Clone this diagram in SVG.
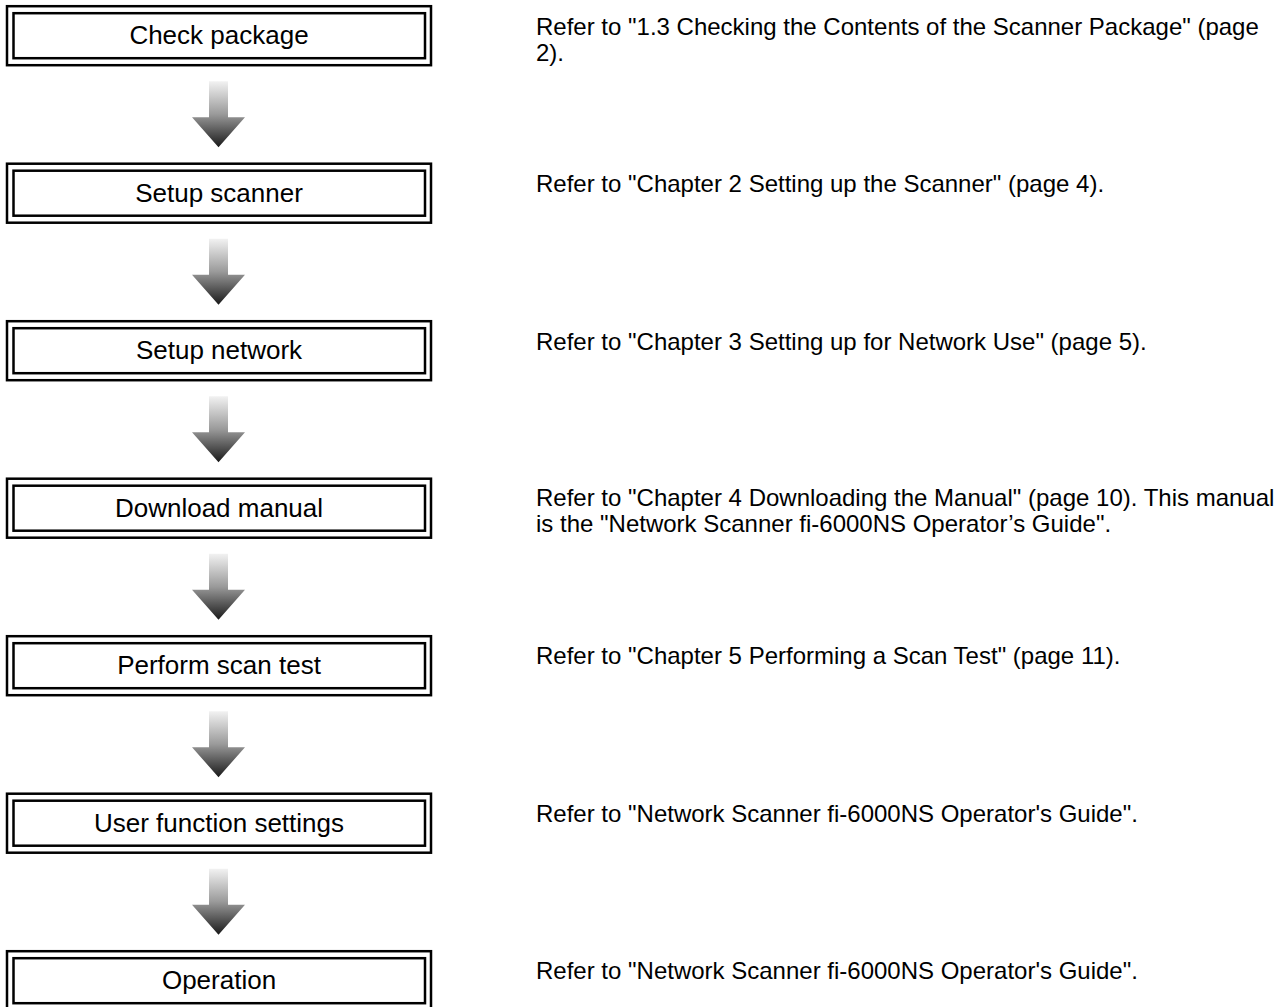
<svg xmlns="http://www.w3.org/2000/svg" width="1284" height="1007" viewBox="0 0 1284 1007">
<style>
.o{fill:#fff;stroke:#000;stroke-width:2.5}
.i{fill:none;stroke:#000;stroke-width:2.5}
.lbl{font-family:"Liberation Sans",Arial,sans-serif;font-size:26px;fill:#000;text-anchor:middle}
.ref{font-family:"Liberation Sans",Arial,sans-serif;font-size:24px;fill:#000}
.arr{fill:url(#g)}
</style>
<defs>
<linearGradient id="g" x1="0" y1="0" x2="0" y2="1">
<stop offset="0" stop-color="#f2f2f2"/>
<stop offset="0.5" stop-color="#9a9a9a"/>
<stop offset="1" stop-color="#1a1a1a"/>
</linearGradient>
<path id="ap" d="M209,0 H228 V36 H245 L218.5,66 L192,36 H209 Z"/>
</defs>
<g id="connectors">
<use href="#ap" class="arr" y="81.2"/>
<use href="#ap" class="arr" y="238.7"/>
<use href="#ap" class="arr" y="396.2"/>
<use href="#ap" class="arr" y="553.7"/>
<use href="#ap" class="arr" y="711.2"/>
<use href="#ap" class="arr" y="868.7"/>
</g>
<g id="n1"><rect class="o" x="7" y="6.2" width="424" height="59"/><rect class="i" x="13.5" y="13.2" width="411.5" height="45"/><text class="lbl" x="219" y="44.2">Check package</text></g>
<g id="n2"><rect class="o" x="7" y="163.7" width="424" height="59"/><rect class="i" x="13.5" y="170.7" width="411.5" height="45"/><text class="lbl" x="219" y="201.7">Setup scanner</text></g>
<g id="n3"><rect class="o" x="7" y="321.2" width="424" height="59"/><rect class="i" x="13.5" y="328.2" width="411.5" height="45"/><text class="lbl" x="219" y="359.2">Setup network</text></g>
<g id="n4"><rect class="o" x="7" y="478.7" width="424" height="59"/><rect class="i" x="13.5" y="485.7" width="411.5" height="45"/><text class="lbl" x="219" y="516.7">Download manual</text></g>
<g id="n5"><rect class="o" x="7" y="636.2" width="424" height="59"/><rect class="i" x="13.5" y="643.2" width="411.5" height="45"/><text class="lbl" x="219" y="674.2">Perform scan test</text></g>
<g id="n6"><rect class="o" x="7" y="793.7" width="424" height="59"/><rect class="i" x="13.5" y="800.7" width="411.5" height="45"/><text class="lbl" x="219" y="831.7">User function settings</text></g>
<g id="n7"><rect class="o" x="7" y="951.2" width="424" height="59"/><rect class="i" x="13.5" y="958.2" width="411.5" height="45"/><text class="lbl" x="219" y="989.2">Operation</text></g>
<g id="refs">
<text class="ref" x="536" y="35">Refer to "1.3 Checking the Contents of the Scanner Package" (page</text>
<text class="ref" x="536" y="61">2).</text>
<text class="ref" x="536" y="192">Refer to "Chapter 2 Setting up the Scanner" (page 4).</text>
<text class="ref" x="536" y="350">Refer to "Chapter 3 Setting up for Network Use" (page 5).</text>
<text class="ref" x="536" y="506">Refer to "Chapter 4 Downloading the Manual" (page 10). This manual</text>
<text class="ref" x="536" y="532">is the "Network Scanner fi-6000NS Operator’s Guide".</text>
<text class="ref" x="536" y="664">Refer to "Chapter 5 Performing a Scan Test" (page 11).</text>
<text class="ref" x="536" y="822">Refer to "Network Scanner fi-6000NS Operator's Guide".</text>
<text class="ref" x="536" y="979">Refer to "Network Scanner fi-6000NS Operator's Guide".</text>
</g>
</svg>
